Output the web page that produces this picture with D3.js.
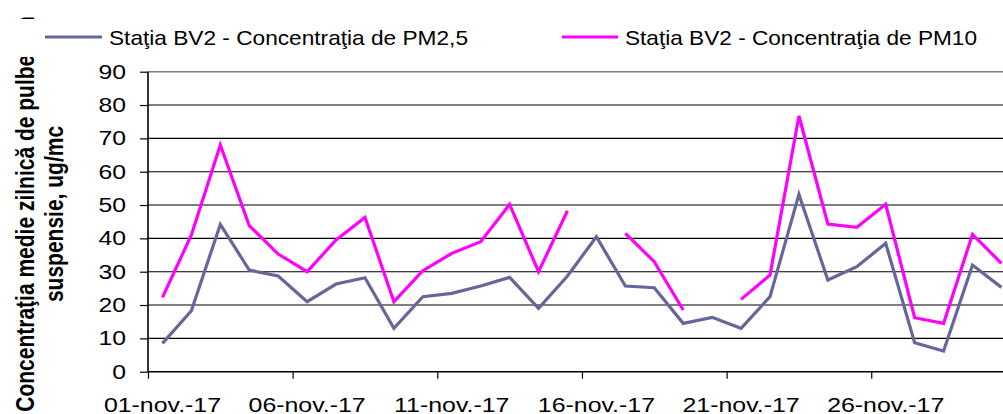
<!DOCTYPE html>
<html>
<head>
<meta charset="utf-8">
<script src="https://cdn.jsdelivr.net/npm/d3@7"></script>
<style>
  html, body { margin: 0; padding: 0; background: #fff; overflow: hidden; }
  svg { display: block; }
  text { font-family: "Liberation Sans", Arial, sans-serif; fill: #000; }
</style>
</head>
<body>
<svg id="chart" width="1003" height="414"></svg>
<script>
// ---- data ----
const categories = ["01-nov.-17","02-nov.-17","03-nov.-17","04-nov.-17","05-nov.-17","06-nov.-17",
  "07-nov.-17","08-nov.-17","09-nov.-17","10-nov.-17","11-nov.-17","12-nov.-17","13-nov.-17",
  "14-nov.-17","15-nov.-17","16-nov.-17","17-nov.-17","18-nov.-17","19-nov.-17","20-nov.-17",
  "21-nov.-17","22-nov.-17","23-nov.-17","24-nov.-17","25-nov.-17","26-nov.-17","27-nov.-17",
  "28-nov.-17","29-nov.-17","30-nov.-17"];
const pm25 = [8.5,18.3,44.2,30.5,28.7,21,26.3,28.2,13,22.5,23.5,25.7,28.3,19,28.7,40.5,25.7,25.2,14.5,16.3,13,22.5,53.2,27.5,31.5,38.5,8.7,6.2,32,25.3];
const pm10 = [22.3,41,68,43.8,35.3,30,39.5,46.3,21,30.3,35.5,39,50.2,30,48.3,null,41.5,33,18.5,null,21.7,29,76.7,44.3,43.3,50.2,16.2,14.5,41.2,32.5];
const xTickLabels = ["01-nov.-17","06-nov.-17","11-nov.-17","16-nov.-17","21-nov.-17","26-nov.-17"];
const yTicks = [0,10,20,30,40,50,60,70,80,90];
const seriesNames = ["Staţia BV2 - Concentraţia de PM2,5","Staţia BV2 - Concentraţia de PM10"];
const yTitle = ["Concentraţia medie zilnică de pulberi în","suspensie, ug/mc"];

// ---- layout ----
const svg = d3.select("#chart");
const plotLeft = 148, plotTop = 71.7, plotBottom = 371.7, step = 28.93;
const x = d3.scaleBand().domain(categories).range([plotLeft, plotLeft + step * categories.length]).paddingInner(0).paddingOuter(0);
const y = d3.scaleLinear().domain([0, 90]).range([plotBottom, plotTop]);
const cx = d => x(d) + x.bandwidth() / 2;
const plotRight = plotLeft + step * categories.length;

// y-axis title (rotated, stretched)
const titleG = svg.append("g");
[[34, yTitle[0]], [63, yTitle[1]]].forEach(([bx, t]) => {
  titleG.append("text")
    .attr("transform", `translate(${bx},214) scale(1.25,1) rotate(-90)`)
    .attr("text-anchor", "middle")
    .style("font-weight", "bold")
    .style("font-size", "21px")
    .text(t);
});

// gridlines
const grid = svg.append("g");
yTicks.filter(v => v > 0).forEach(v => {
  grid.append("line")
    .attr("x1", plotLeft).attr("x2", plotRight)
    .attr("y1", y(v)).attr("y2", y(v))
    .attr("stroke", v === 90 ? "#808080" : "#000")
    .attr("stroke-width", v === 90 ? 1.6 : 1.1);
});

// y axis
const yAxis = d3.axisLeft(y).tickValues(yTicks).tickSize(8).tickFormat("");
const yg = svg.append("g").attr("transform", `translate(${plotLeft},0)`).call(yAxis);
yg.select(".domain").attr("stroke", "#000").attr("stroke-width", 1.6).attr("d", `M0,${plotTop}V${plotBottom}`);
yg.selectAll(".tick line").attr("stroke", "#000").attr("stroke-width", 1.2);
yTicks.forEach(v => {
  svg.append("text")
    .attr("transform", `translate(126,${y(v)}) scale(1.27,1)`)
    .attr("text-anchor", "end")
    .attr("dy", "0.36em")
    .style("font-size", "19.5px")
    .text(v);
});

// x axis
const boundaries = [0,5,10,15,20,25,30].map(i => plotLeft + step * i);
const xScaleTicks = d3.scaleLinear().domain([plotLeft, plotRight]).range([plotLeft, plotRight]);
const xAxis = d3.axisBottom(xScaleTicks).tickValues(boundaries).tickSize(7).tickFormat("");
const xg = svg.append("g").attr("transform", `translate(0,${plotBottom})`).call(xAxis);
xg.select(".domain").attr("stroke", "#000").attr("stroke-width", 1.6).attr("d", `M${plotLeft},0H${plotRight}`);
xg.selectAll(".tick line").attr("stroke", "#000").attr("stroke-width", 1.2);
xTickLabels.forEach(lbl => {
  svg.append("text")
    .attr("transform", `translate(${cx(lbl)},412) scale(1.245,1)`)
    .attr("text-anchor", "middle")
    .style("font-size", "20px")
    .text(lbl);
});

// lines
const line = d3.line()
  .defined(d => d.v !== null)
  .x(d => cx(d.c))
  .y(d => y(d.v));
const colors = ["#666699", "#FF00FF"];
[pm25, pm10].forEach((vals, i) => {
  svg.append("path")
    .datum(categories.map((c, j) => ({ c, v: vals[j] })))
    .attr("fill", "none")
    .attr("stroke", colors[i])
    .attr("stroke-width", 3.2)
    .attr("stroke-linejoin", "miter")
    .attr("d", line);
});

// legend (white box)
svg.append("rect").attr("x", 0).attr("y", 19).attr("width", 1003).attr("height", 38).attr("fill", "#fff");
const legendItems = [
  { x1: 45, x2: 102, tx: 109, tw: 359 },
  { x1: 562, x2: 618, tx: 625, tw: 352 }
];
legendItems.forEach((it, i) => {
  svg.append("line")
    .attr("x1", it.x1).attr("x2", it.x2).attr("y1", 37).attr("y2", 37)
    .attr("stroke", colors[i]).attr("stroke-width", 3.2);
  svg.append("text")
    .attr("x", it.tx).attr("y", 45)
    .attr("textLength", it.tw)
    .attr("lengthAdjust", "spacingAndGlyphs")
    .style("font-size", "21px")
    .text(seriesNames[i]);
});
</script>
</body>
</html>
